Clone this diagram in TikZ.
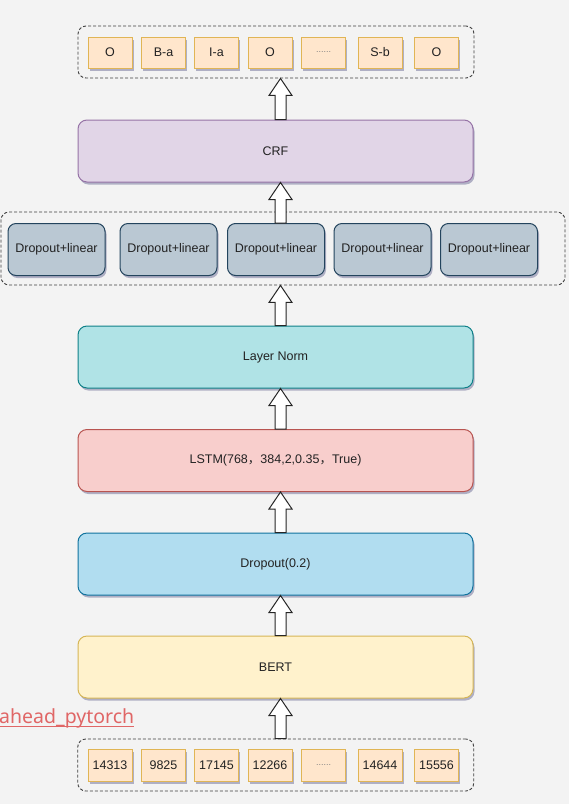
\documentclass[tikz,border=0pt]{standalone}
\usepackage{fontspec}
\setmainfont{Liberation Sans}
\newfontfamily\cjk{Noto Sans CJK SC}
\newfontfamily\linkfont{Noto Sans}
\usetikzlibrary{calc,shadows}
\definecolor{bg}{HTML}{F3F3F3}
\definecolor{ink}{HTML}{222222}
\definecolor{tagfill}{HTML}{FFE6CC}
\definecolor{tagline}{HTML}{E0B555}
\definecolor{crffill}{HTML}{E1D5E7}
\definecolor{crfline}{HTML}{9673A6}
\definecolor{linfill}{HTML}{BAC8D3}
\definecolor{linline}{HTML}{23445D}
\definecolor{lnfill}{HTML}{B0E3E6}
\definecolor{lnline}{HTML}{0E8088}
\definecolor{lstmfill}{HTML}{F8CECC}
\definecolor{lstmline}{HTML}{B85450}
\definecolor{dropfill}{HTML}{B1DDF0}
\definecolor{dropline}{HTML}{10739E}
\definecolor{bertfill}{HTML}{FFF2CC}
\definecolor{bertline}{HTML}{D6B656}
\definecolor{linkred}{HTML}{E06666}

\newcommand{\arrowx}{280.5pt}
\newcommand{\tagdots}{{\fontsize{9}{10}\selectfont\color{black!50}......}}
\newcommand{\uparrowto}[2]{%
  \draw[hollowarrow] let \p1=(#1), \p2=(#2) in
    (\arrowx-5.5pt,\y1) -- (\arrowx-5.5pt,\y2-17pt) -- (\arrowx-11.5pt,\y2-17pt) -- (\arrowx,\y2)
    -- (\arrowx+11.5pt,\y2-17pt) -- (\arrowx+5.5pt,\y2-17pt) -- (\arrowx+5.5pt,\y1) -- cycle;}

\tikzset{
  softshadow/.style={drop shadow={shadow xshift=1.5pt,shadow yshift=-2.5pt,opacity=0.28,fill=black!70!blue}},
  layer/.style={draw,line width=1pt,rounded corners=9pt,minimum width=395pt,minimum height=62pt,softshadow},
  tag/.style={draw=tagline,fill=tagfill,line width=1pt,minimum width=44pt,minimum height=31pt,inner sep=1pt,softshadow},
  linbox/.style={draw=linline,fill=linfill,line width=1pt,rounded corners=8pt,minimum width=97pt,minimum height=52pt,inner sep=1pt,softshadow},
  group/.style={draw=black!75,line width=0.9pt,dash pattern=on 3pt off 2pt,rounded corners=8pt,inner sep=0pt},
  hollowarrow/.style={draw=black!85,fill=white,line width=1pt,line join=miter},
}

\begin{document}
\begin{tikzpicture}[x=1pt,y=-1pt,font=\fontsize{12.5}{15}\selectfont,text=ink]
\useasboundingbox (0,0) rectangle (569,804);
\fill[bg] (0,0) rectangle (569,804);

% output tags
\node[group,minimum width=396pt,minimum height=52pt] (tagsgrp) at (276,52) {};
\foreach \x/\lab [count=\i] in {110/O,163.5/B-a,216.5/I-a,270/O,323.5/\tagdots,380/S-b,436.5/O}
  \node[tag] (tag\i) at (\x,52.5) {\lab};

\node[layer,draw=crfline,fill=crffill] (crf) at (275.5,151) {CRF};

% dropout + linear heads
\node[group,minimum width=564pt,minimum height=73pt] (lingrp) at (283,248.5) {};
\foreach \x [count=\i] in {56.5,168.5,276,382.5,489}
  \node[linbox] (lin\i) at (\x,249.5) {Dropout+linear};

\node[layer,draw=lnline,fill=lnfill] (ln) at (275.5,357) {Layer Norm};
\node[layer,draw=lstmline,fill=lstmfill] (lstm) at (275.5,460.5) {LSTM(768{\cjk，}384,2,0.35{\cjk，}True)};
\node[layer,draw=dropline,fill=dropfill] (drop) at (275.5,564) {Dropout(0.2)};
\node[layer,draw=bertline,fill=bertfill] (bert) at (275.5,667) {BERT};

% input ids
\node[group,minimum width=396pt,minimum height=52pt] (idsgrp) at (275.75,765) {};
\foreach \x/\lab [count=\i] in {110/14313,163.5/9825,216.5/17145,270/12266,323.5/\tagdots,380/14644,436.5/15556}
  \node[tag,minimum height=32pt] (id\i) at (\x,765) {\lab};

% watermark
\node[anchor=base west,inner sep=0pt,text=linkred,font=\linkfont\fontsize{19.5}{22}\selectfont] (wm) at (-1,723) {ahead\_pytorch};
\draw[linkred,line width=1.1pt] ([yshift=-3.5pt]wm.base west) -- ([yshift=-3.5pt]wm.base east);

% block arrows
\uparrowto{crf.north}{tagsgrp.south}
\uparrowto{lin3.north}{crf.south}
\uparrowto{ln.north}{lingrp.south}
\uparrowto{lstm.north}{ln.south}
\uparrowto{drop.north}{lstm.south}
\uparrowto{bert.north}{drop.south}
\uparrowto{idsgrp.north}{bert.south}
\end{tikzpicture}
\end{document}
